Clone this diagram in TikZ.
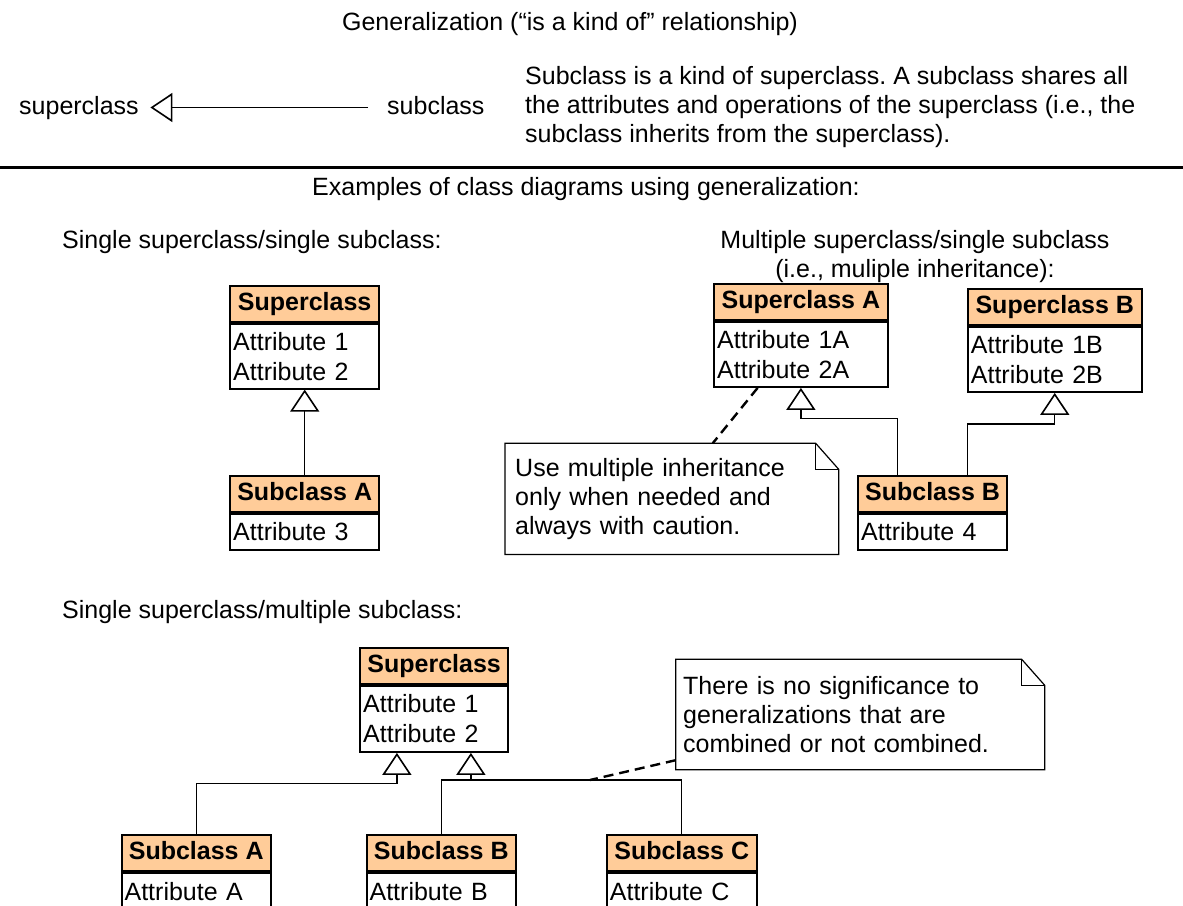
\documentclass[tikz,border=0pt]{standalone}
\usepackage{fontspec}
\setmainfont{Liberation Sans}
\usetikzlibrary{arrows.meta}
\definecolor{hdrfill}{RGB}{255,204,153}
\frenchspacing
\tikzset{
  every node/.style={font=\fontsize{25}{29}\selectfont},
  lbl/.style={inner sep=0pt, text height=18pt, text depth=5pt},
  hdr/.style={draw=black, line width=1.8pt, fill=hdrfill, inner sep=0pt,
    minimum height=36pt, font=\fontsize{25}{29}\selectfont\bfseries,
    text height=18pt, text depth=5pt},
  bdy/.style={draw=black, line width=1.8pt, fill=white, inner xsep=3pt,
    inner ysep=0pt, align=left, font=\fontsize{25}{30}\selectfont},
  gen/.style={line width=1.3pt,
    -{Triangle[open, length=22pt, width=29pt, line width=1.6pt]}},
  conn/.style={line width=1.3pt},
  notebox/.style={inner ysep=0pt, align=left, font=\fontsize{25}{29}\selectfont},
  noteline/.style={draw=black, line width=1.2pt},
  notelink/.style={line width=2.4pt, dash pattern=on 10pt off 6pt},
  rule/.style={line width=2.4pt}
}
\newcommand\umlclass[7]{%
  \pgfmathsetmacro\umltw{#4-6}%
  \node[hdr, minimum width=#4pt, anchor=north west] (#1) at (#2,#3) {#5};
  \node[bdy, minimum width=#4pt, minimum height=#7pt, text width=\umltw pt,
    anchor=north] (#1-b) at (#1.south) {#6};
}
\newcommand\noteoutline[1]{%
  \draw[noteline] (#1.north west) -- ([xshift=-23pt]#1.north east)
    -- ([yshift=-26pt]#1.north east) -- (#1.south east) -- (#1.south west) -- cycle;
  \draw[noteline] ([xshift=-23pt]#1.north east) |- ([yshift=-26pt]#1.north east);
}
\begin{document}
\begin{tikzpicture}[x=1pt, y=-1pt]
\fill[white] (0,0) rectangle (1183,905);
\useasboundingbox (0,0) rectangle (1183,905);

% ---- top legend ----
\node[lbl, anchor=base] (title) at (570,30) {Generalization (“is a kind of” relationship)};
\node[lbl, anchor=base west] (lsuper) at (19,114) {superclass};
\node[lbl, anchor=base west] (lsub) at (387,114) {subclass};
\draw[gen] ([xshift=-19pt]lsub.west) -- ([xshift=11.5pt]lsuper.east);
\node[inner sep=0pt, anchor=north west, align=left] (desc) at (525,66.5)
  {Subclass is a kind of superclass. A subclass shares all\\
   the attributes and operations of the superclass (i.e., the\\
   subclass inherits from the superclass).};
\draw[rule] (-5,167.3) -- (1190,167.3);

% ---- headings ----
\node[lbl, anchor=base west] (ex) at (312,195) {Examples of class diagrams using generalization:};
\node[lbl, anchor=base west] (h1) at (62,248) {Single superclass/single subclass:};
\node[lbl, anchor=base] (h2) at (915,248) {Multiple superclass/single subclass};
\node[lbl, anchor=base] (h2b) at (915,277) {(i.e., muliple inheritance):};
\node[lbl, anchor=base west] (h3) at (62,618) {Single superclass/multiple subclass:};

% ---- single superclass / single subclass ----
\umlclass{supone}{229.3}{285}{149}{Superclass}{Attribute 1\\Attribute 2}{65}
\umlclass{subone}{229.3}{475}{149}{Subclass A}{Attribute 3}{36}
\draw[gen] (subone.north) -- (supone-b.south);

% ---- multiple inheritance ----
\umlclass{supA}{713.3}{283.3}{173.4}{Superclass A}{Attribute 1A\\Attribute 2A}{65}
\umlclass{supB}{967}{288.3}{173.7}{Superclass B}{Attribute 1B\\Attribute 2B}{65}
\umlclass{subB}{857.3}{475}{148.7}{Subclass B}{Attribute 4}{36}
\draw[gen] ([xshift=-35pt]subB.north) -- ++(0,-56.3) -| (supA-b.south);
\draw[gen] ([xshift=35pt]subB.north) -- ++(0,-51) -| (supB-b.south);

\node[notebox, minimum width=333.3pt, minimum height=110.7pt, text width=313.3pt,
  inner xsep=10pt, anchor=north west] (noteone) at (505,443.3)
  {Use multiple inheritance\\only when needed and\\always with caution.};
\noteoutline{noteone}
\draw[notelink] ([xshift=-43.3pt]supA-b.south) -- ([xshift=207.7pt]noteone.north west);

% ---- single superclass / multiple subclass ----
\umlclass{supthree}{359.3}{647.3}{148}{Superclass}{Attribute 1\\Attribute 2}{66}
\umlclass{subAthree}{120.7}{834.3}{149.3}{Subclass A}{Attribute A}{38}
\umlclass{subBthree}{365.7}{834.3}{149.3}{Subclass B}{Attribute B}{38}
\umlclass{subCthree}{606}{834.3}{149.7}{Subclass C}{Attribute C}{38}
\draw[gen] (subAthree.north) -- ++(0,-51) -| ([xshift=-37.3pt]supthree-b.south);
\draw[gen] (subBthree.north) -- ++(0,-54.3) -| ([xshift=36.7pt]supthree-b.south);
\draw[conn] (subCthree.north) -- ++(0,-54.3) -- ([yshift=54.3pt]subBthree.north);

\node[notebox, minimum width=368.6pt, minimum height=110pt, text width=354pt,
  inner xsep=7.3pt, anchor=north west] (notetwo) at (675.7,659.3)
  {There is no significance to\\generalizations that are\\combined or not combined.};
\noteoutline{notetwo}
\coordinate (dj) at (590,780);
\draw[notelink] ([yshift=-45.7pt]notetwo.west) -- (dj);
\end{tikzpicture}
\end{document}
